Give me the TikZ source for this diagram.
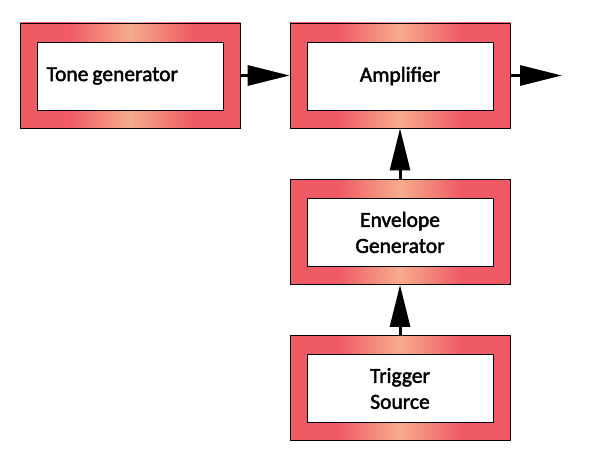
\documentclass[tikz,border=0pt]{standalone}
\usepackage{fontspec}
\newfontfamily\labelfont{Carlito}[FakeBold=2]
\usetikzlibrary{arrows.meta}
\definecolor{boxred}{RGB}{239,91,100}
\definecolor{boxglow}{RGB}{246,172,140}
\pgfdeclarehorizontalshading{boxshade}{100bp}{color(0bp)=(boxred); color(36bp)=(boxred); color(50bp)=(boxglow); color(64bp)=(boxred); color(100bp)=(boxred)}
\tikzset{
  outerbox/.style={draw=black, line width=0.9pt, shading=boxshade, minimum width=220pt, minimum height=105pt, inner sep=0pt},
  innerbox/.style={draw=black, line width=0.9pt, fill=white, minimum width=186pt, minimum height=68pt, inner sep=0pt, font=\labelfont\fontsize{21.5}{26}\selectfont, align=center},
  flow/.style={line width=3pt, -{Triangle[length=42pt,width=20pt]}}
}
\begin{document}
\begin{tikzpicture}[x=1pt,y=-1pt]
\useasboundingbox (0,0) rectangle (593,470);
\node[outerbox] (tone) at (130.5,75.5) {};
\node[innerbox, text width=168pt, align=left] (tonein) at (130.5,76) {Tone\hspace{4pt}generator};
\node[outerbox] (amp) at (400,75.5) {};
\node[innerbox, text width=164pt, align=center] (ampin) at (400,76) {Amplifier\hspace*{22pt}};
\node[outerbox] (env) at (400,232) {};
\node[innerbox] (envin) at (400,232.5) {Envelope\\Generator};
\node[outerbox] (trig) at (400,388) {};
\node[innerbox] (trigin) at (400,388.5) {Trigger\\Source};
\coordinate (out) at (562,75.5);
\draw[flow] (tone.east) -- (amp.west);
\draw[flow] (amp.east) -- (out);
\draw[flow] (env.north) -- (amp.south);
\draw[flow] (trig.north) -- (env.south);
\end{tikzpicture}
\end{document}
